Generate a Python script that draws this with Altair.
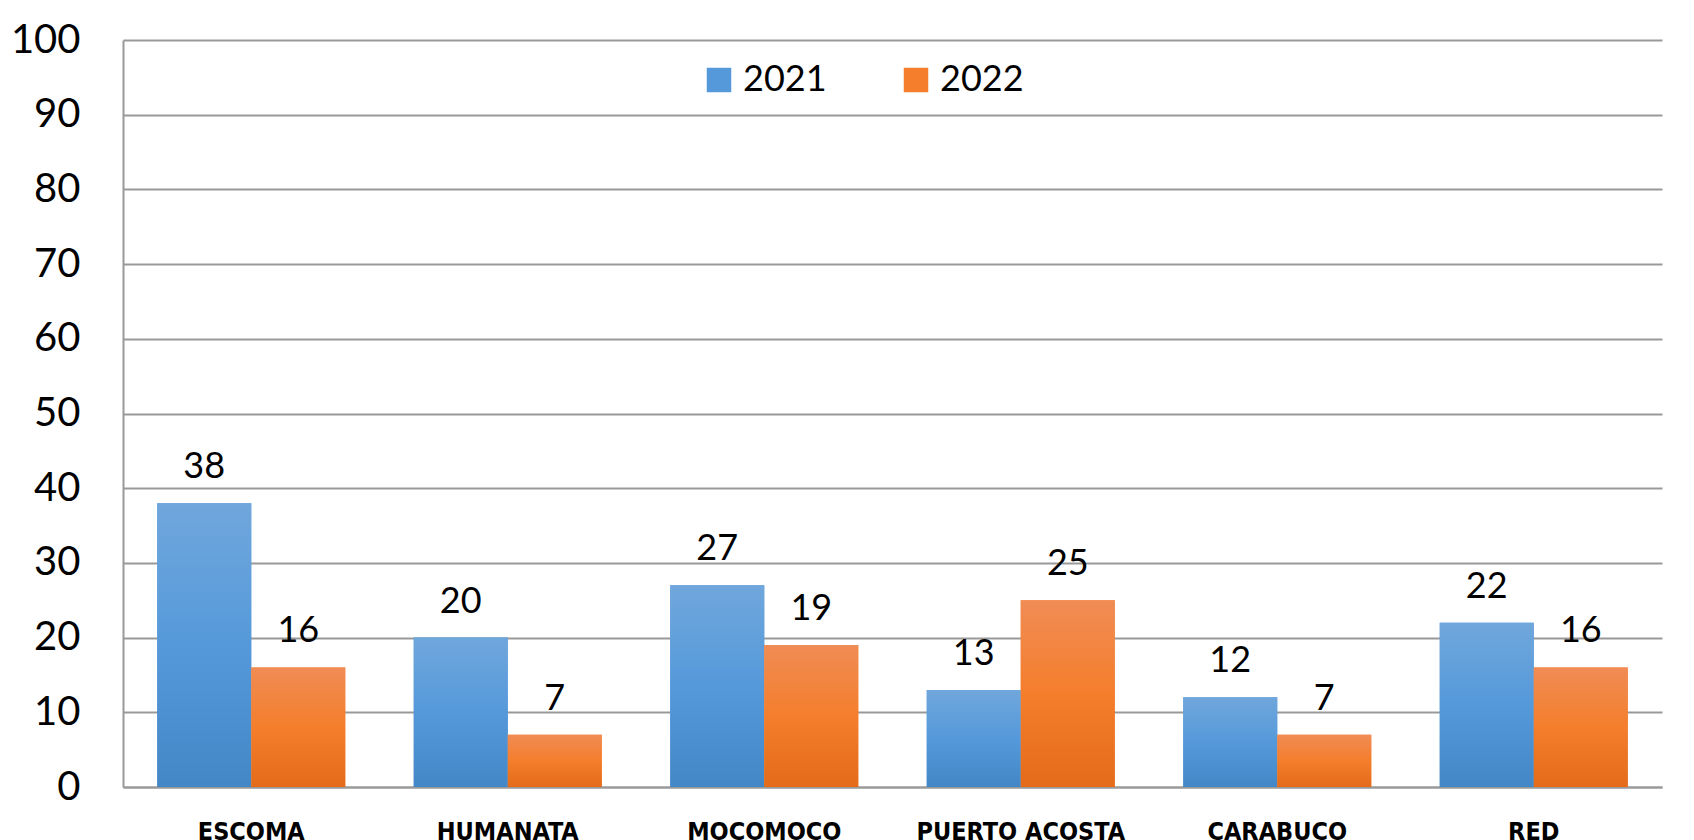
import altair as alt
import pandas as pd

categories = ["ESCOMA", "HUMANATA", "MOCOMOCO", "PUERTO ACOSTA", "CARABUCO", "RED"]
values_2021 = [38, 20, 27, 13, 12, 22]
values_2022 = [16, 7, 19, 25, 7, 16]
years = ["2021", "2022"]

rows = []
for c, a, b in zip(categories, values_2021, values_2022):
    rows.append({"cat": c, "year": years[0], "val": a})
    rows.append({"cat": c, "year": years[1], "val": b})
df = pd.DataFrame(rows)

blue_grad = alt.LinearGradient(
    gradient="linear", x1=0, x2=0, y1=0, y2=1,
    stops=[alt.GradientStop(color="#70a7dc", offset=0),
           alt.GradientStop(color="#5599da", offset=0.5),
           alt.GradientStop(color="#4487c7", offset=1)])
orange_grad = alt.LinearGradient(
    gradient="linear", x1=0, x2=0, y1=0, y2=1,
    stops=[alt.GradientStop(color="#f08c55", offset=0),
           alt.GradientStop(color="#f47e2c", offset=0.5),
           alt.GradientStop(color="#e36b1a", offset=1)])

x_enc = alt.X("cat:N", sort=categories,
              scale=alt.Scale(paddingInner=0.267, paddingOuter=0.1335),
              axis=alt.Axis(title=None, labelAngle=0,
                            labelFont="'DejaVu Sans Condensed', 'Liberation Sans', sans-serif",
                            labelFontWeight="bold", labelFontSize=25, labelColor="black",
                            labelPadding=32, labelLimit=0, ticks=False, domainColor="#999999",
                            domainWidth=2, grid=False))
xo_enc = alt.XOffset("year:N", scale=alt.Scale(domain=years, paddingInner=0, paddingOuter=0))
y_enc = alt.Y("val:Q", scale=alt.Scale(domain=[0, 100], nice=False),
              axis=alt.Axis(title=None, values=list(range(0, 101, 10)), labelFont="Lato",
                            labelFontSize=40, labelColor="black", labelPadding=43,
                            ticks=False, domainColor="#999999", domainWidth=2,
                            gridColor="#999999", gridWidth=2, gridOpacity=1))

base = alt.Chart(df)

legend_bars = base.mark_bar().encode(
    x=x_enc, xOffset=xo_enc, y=y_enc,
    color=alt.Color("year:N", scale=alt.Scale(domain=years, range=["#5599da", "#f47e2c"]),
                    legend=alt.Legend(title=None, orient="none", legendX=578, legendY=22,
                                      direction="horizontal", symbolType="square",
                                      symbolSize=600, symbolStrokeWidth=0, labelFont="Lato",
                                      labelFontSize=36, labelColor="black", labelOffset=6,
                                      columnPadding=71, padding=0)))

bars21 = base.mark_bar(color=blue_grad).encode(x=x_enc, xOffset=xo_enc, y=y_enc).transform_filter(
    alt.datum.year == years[0])
bars22 = base.mark_bar(color=orange_grad).encode(x=x_enc, xOffset=xo_enc, y=y_enc).transform_filter(
    alt.datum.year == years[1])

labels = base.mark_text(font="Lato", fontSize=36, color="black", baseline="alphabetic",
                        dy=-25).encode(x=x_enc, xOffset=xo_enc, y=y_enc, text=alt.Text("val:Q"))

chart = alt.layer(legend_bars, bars21, bars22, labels).properties(
    width=1539, height=747,
    autosize=alt.AutoSizeParams(type="none"),
    padding={"left": 115, "top": 32, "right": 16, "bottom": 60},
    background="white",
).configure_view(stroke=None)

chart.save("out.html", embed_options={"renderer": "svg", "actions": False})
